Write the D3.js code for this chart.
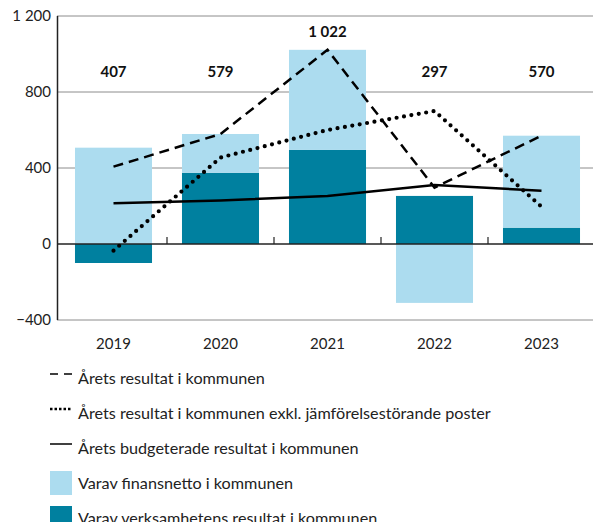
<!DOCTYPE html>
<html>
<head>
<meta charset="utf-8">
<script src="https://cdn.jsdelivr.net/npm/d3@7"></script>
<style>
  body { margin: 0; background: #fff; }
  svg { font-family: "Lato", "Open Sans", sans-serif; }
</style>
</head>
<body>
<div id="chart"></div>
<script>
const years = ["2019", "2020", "2021", "2022", "2023"];
const resultat = [407, 579, 1022, 297, 570];               // dashed
const resultatExkl = [-35, 455, 600, 700, 196];            // dotted
const budget = [214, 229, 253, 310, 280];                   // solid
const finansnetto = [507, 204, 527, -310, 484];             // light bars
const verksamhet = [-100, 375, 495, 253, 86];               // dark bars
const yTicks = [-400, 0, 400, 800, 1200];

const lightBlue = "#acdcef";
const darkBlue = "#00809f";

const svg = d3.select("#chart").append("svg")
    .attr("width", 595)
    .attr("height", 522);

const x = d3.scaleBand()
    .domain(years)
    .range([60, 595])
    .paddingInner(0.28)
    .paddingOuter(0.14);

const y = d3.scaleLinear()
    .domain([-400, 1200])
    .range([320, 16]);

const fmt = v => d3.format(",")(v).replace(",", " ");

// grid lines
svg.append("g")
    .selectAll("line")
    .data(yTicks.filter(d => d !== 0))
    .enter()
    .append("line")
    .attr("x1", 57)
    .attr("x2", 593)
    .attr("y1", d => y(d))
    .attr("y2", d => y(d))
    .attr("stroke", "#8c8c8c")
    .attr("stroke-width", 1);

// y tick labels
svg.append("g")
    .selectAll("text")
    .data(yTicks)
    .enter()
    .append("text")
    .attr("x", 51)
    .attr("y", d => y(d))
    .attr("dy", "0.35em")
    .attr("text-anchor", "end")
    .attr("font-size", 15)
    .attr("fill", "#222")
    .text(d => fmt(d));

// bars: positives stacked from zero, negatives drawn below zero
const stacks = years.map((yr, i) => {
    let pos = 0, neg = 0;
    const parts = [];
    [[verksamhet[i], darkBlue], [finansnetto[i], lightBlue]].forEach(([v, c]) => {
        if (v >= 0) { parts.push({ yr, y0: pos, y1: pos + v, c }); pos += v; }
        else { parts.push({ yr, y0: neg + v, y1: neg, c }); neg += v; }
    });
    return parts;
}).flat();

svg.append("g")
    .selectAll("rect")
    .data(stacks)
    .enter()
    .append("rect")
    .attr("x", d => x(d.yr))
    .attr("width", x.bandwidth())
    .attr("y", d => y(d.y1))
    .attr("height", d => y(d.y0) - y(d.y1))
    .attr("fill", d => d.c);

// zero line and y axis line
svg.append("line")
    .attr("x1", 57).attr("x2", 593)
    .attr("y1", y(0)).attr("y2", y(0))
    .attr("stroke", "#222").attr("stroke-width", 1.5);
svg.append("line")
    .attr("x1", 57.5).attr("x2", 57.5)
    .attr("y1", y(1200)).attr("y2", y(-400))
    .attr("stroke", "#222").attr("stroke-width", 1.5);

// category separator ticks above the zero line
svg.append("g")
    .selectAll("line")
    .data(years.slice(1))
    .enter()
    .append("line")
    .attr("x1", d => x(d) - x.step() * x.paddingInner() / 2)
    .attr("x2", d => x(d) - x.step() * x.paddingInner() / 2)
    .attr("y1", y(0))
    .attr("y2", y(0) - 7)
    .attr("stroke", "#222")
    .attr("stroke-width", 1.2);

// x labels
svg.append("g")
    .selectAll("text")
    .data(years)
    .enter()
    .append("text")
    .attr("x", d => x(d) + x.bandwidth() / 2)
    .attr("y", 349)
    .attr("text-anchor", "middle")
    .attr("font-size", 15)
    .attr("fill", "#222")
    .text(d => d);

// lines
const cx = (d, i) => x(years[i]) + x.bandwidth() / 2;
const line = d3.line().x(cx).y(d => y(d));

svg.append("path")
    .datum(resultat)
    .attr("d", line)
    .attr("fill", "none")
    .attr("stroke", "#000")
    .attr("stroke-width", 2.5)
    .attr("stroke-dasharray", "10,6");

svg.append("path")
    .datum(resultatExkl)
    .attr("d", line)
    .attr("fill", "none")
    .attr("stroke", "#000")
    .attr("stroke-width", 4.2)
    .attr("stroke-linecap", "round")
    .attr("stroke-dasharray", "0,7.5");

svg.append("path")
    .datum(budget)
    .attr("d", line)
    .attr("fill", "none")
    .attr("stroke", "#000")
    .attr("stroke-width", 2.5);

// total labels
svg.append("g")
    .selectAll("text")
    .data(resultat)
    .enter()
    .append("text")
    .attr("x", cx)
    .attr("y", d => Math.min(y(880), y(d) - 13))
    .attr("text-anchor", "middle")
    .attr("font-size", 15)
    .attr("font-weight", "bold")
    .attr("fill", "#111")
    .text(d => fmt(d));

// legend
const legendItems = [
    { label: "Årets resultat i kommunen", type: "dash" },
    { label: "Årets resultat i kommunen exkl. jämförelsestörande poster", type: "dot" },
    { label: "Årets budgeterade resultat i kommunen", type: "solid" },
    { label: "Varav finansnetto i kommunen", type: "rect", color: lightBlue },
    { label: "Varav verksamhetens resultat i kommunen", type: "rect", color: darkBlue }
];

const legend = svg.append("g")
    .selectAll("g")
    .data(legendItems)
    .enter()
    .append("g")
    .attr("transform", (d, i) => `translate(50, ${378 + i * 35})`);

legend.filter(d => d.type === "rect")
    .append("rect")
    .attr("x", 0).attr("y", -12)
    .attr("width", 22).attr("height", 24)
    .attr("fill", d => d.color);

legend.filter(d => d.type !== "rect")
    .append("line")
    .attr("x1", 0).attr("x2", 22)
    .attr("y1", -4).attr("y2", -4)
    .attr("stroke", "#000")
    .attr("stroke-width", d => d.type === "dot" ? 2.5 : 1.5)
    .attr("stroke-dasharray", d => d.type === "dash" ? "8,6" : d.type === "dot" ? "2.5,2" : null);

legend.append("text")
    .attr("x", 28)
    .attr("y", 0)
    .attr("dy", "0.35em")
    .attr("font-size", 16.2)
    .attr("fill", "#222")
    .text(d => d.label);
</script>
</body>
</html>
